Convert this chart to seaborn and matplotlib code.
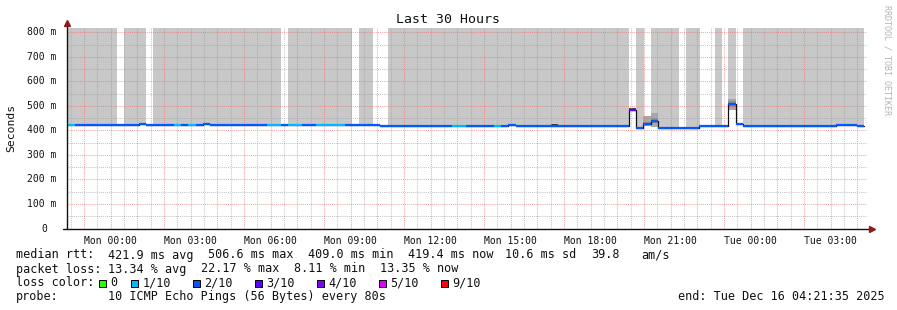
import numpy as np
import pandas as pd
import matplotlib
matplotlib.use("Agg")
import matplotlib.pyplot as plt
from matplotlib.patches import Rectangle
import seaborn as sns

# ---------------- data ----------------
window_start = pd.Timestamp("2025-12-14 22:21:35")
window_hours = 30
data_end = 29.89  # hours since window start where data stops

# median rtt, step segments (hours since window start), value in ms, loss-colour index
med_start = [0.00, 0.30, 2.69, 2.96, 4.01, 4.26, 4.54, 4.84, 5.11, 5.36, 7.50, 8.01,
             8.29, 8.80, 9.34, 10.43, 11.74, 14.43, 14.96, 16.01, 16.26, 16.54, 16.84,
             21.08, 21.34, 21.61, 21.89, 22.15, 23.71, 24.80, 25.09, 25.36, 28.84, 29.61]
med_value = [422.5, 422.5, 427.0, 422.5, 422.5, 422.5, 422.5, 422.5, 427.0, 422.5, 422.5, 422.5,
             422.5, 422.5, 422.5, 422.5, 418.5, 418.5, 418.5, 418.5, 418.5, 422.0, 418.5,
             483.0, 410.0, 428.0, 440.0, 409.0, 418.5, 506.6, 426.0, 418.5, 422.0, 419.4]
med_loss = [1, 2, 2, 2, 1, 2, 1, 2, 2, 2, 1, 2,
            1, 2, 1, 2, 2, 1, 2, 1, 2, 2, 2,
            3, 2, 2, 2, 2, 2, 2, 2, 2, 2, 2]

# light smoke reaching above the top of the graph
smoke_start = [0.00, 2.14, 3.22, 8.29, 10.95, 12.04, 21.34, 21.90, 23.21, 24.30, 24.80, 25.36]
smoke_end = [1.86, 2.95, 8.03, 10.68, 11.46, 21.08, 21.63, 22.94, 23.73, 24.55, 25.09, 29.89]
smoke_top = 830.0

# local smoke boxes (start, end, low, high, shade)
box_start = [18.15, 21.08, 21.61, 21.89, 21.61, 21.89, 24.80, 24.80]
box_end = [18.40, 21.34, 21.89, 22.15, 21.89, 22.15, 25.09, 25.09]
box_low = [419.0, 483.0, 418.0, 413.0, 423.0, 430.0, 483.0, 497.0]
box_high = [428.0, 492.0, 459.0, 472.0, 436.0, 452.0, 528.0, 518.0]
box_shade = ["#383838", "#4a4a4a", "#a8a8a8", "#a8a8a8", "#8c8c8c", "#8c8c8c", "#a8a8a8", "#8c8c8c"]

loss_labels = ["0", "1/10", "2/10", "3/10", "4/10", "5/10", "9/10"]
loss_colors = ["#26ff00", "#00b8ff", "#0059ff", "#5e00ff", "#7e00ff", "#dd00ff", "#ff0000"]

y_ticks = [0, 100, 200, 300, 400, 500, 600, 700, 800]
y_tick_labels = ["0", "100 m", "200 m", "300 m", "400 m", "500 m", "600 m", "700 m", "800 m"]

stats_rtt = ["421.9 ms avg", "506.6 ms max", "409.0 ms min", "419.4 ms now", "10.6 ms sd", "39.8", "am/s"]
stats_loss = ["13.34 % avg", "22.17 % max", "8.11 % min", "13.35 % now"]
probe_text = "10 ICMP Echo Pings (56 Bytes) every 80s"
end_text = "end: Tue Dec 16 04:21:35 2025"
title = "Last 30 Hours"

# ---------------- figure ----------------
W, H = 897, 310
sns.set_style("white")
mono = ["DejaVu Sans Mono", "Liberation Mono"]
plt.rcParams["font.family"] = mono

fig = plt.figure(figsize=(W / 100, H / 100), dpi=100, facecolor="white")
ax = fig.add_axes([67 / W, 1 - 228.5 / H, 800 / W, 200.5 / H])
ax.set_facecolor("white")
ax.set_xlim(0, window_hours)
ax.set_ylim(0, 817.5)

med_end = med_start[1:] + [data_end]

# smoke reaching the top
for s, e in zip(smoke_start, smoke_end):
    for ms, me, mv in zip(med_start, med_end, med_value):
        a, b = max(s, ms), min(e, me)
        if b > a:
            ax.fill_between([a, b], [mv, mv], [smoke_top, smoke_top],
                            color="#c8c8c8", lw=0, zorder=1)

# local smoke boxes
for s, e, lo, hi, c in zip(box_start, box_end, box_low, box_high, box_shade):
    ax.fill_between([s, e], [lo, lo], [hi, hi], color=c, lw=0, zorder=1.2)

# black step outline of the median
step_df = pd.DataFrame({"t": med_start + [data_end], "v": med_value + [med_value[-1]]})
sns.lineplot(data=step_df, x="t", y="v", ax=ax, color="#111111", lw=0.9,
             drawstyle="steps-post", estimator=None, sort=False, zorder=3)

# coloured median by loss
ax.hlines(med_value, med_start, med_end,
          colors=[loss_colors[i] for i in med_loss], lw=1.6, zorder=4)

# grid
hour_ticks = pd.date_range("2025-12-14 23:00", "2025-12-16 04:00", freq="1h")
half_ticks = pd.date_range("2025-12-14 22:30", "2025-12-16 04:00", freq="1h")
major_x = [(t - window_start) / pd.Timedelta(hours=1) for t in hour_ticks]
minor_x = [(t - window_start) / pd.Timedelta(hours=1) for t in half_ticks]
ax.set_xticks(major_x)
ax.set_xticks(minor_x, minor=True)
ax.set_xticklabels([t.strftime("%a %H:%M") if t.hour % 3 == 0 else "" for t in hour_ticks],
                   fontsize=7.0, color="#111111")
ax.set_yticks(y_ticks)
ax.set_yticks(np.arange(50, 817, 100), minor=True)
ax.set_yticklabels([])

major_kw = dict(color="#e87070", alpha=0.6, lw=0.75, ls=(0, (1, 1)))
minor_kw = dict(color="#a0a0a0", alpha=0.6, lw=0.75, ls=(0, (1, 1)))
ax.grid(which="major", **major_kw)
ax.grid(which="minor", **minor_kw)
ax.set_axisbelow(False)
for gl in ax.get_xgridlines() + ax.get_ygridlines():
    gl.set_zorder(2)

ax.tick_params(axis="both", which="both", direction="out", length=2.5, width=0.7,
               color="#444444")
ax.tick_params(axis="x", which="major", pad=2.8)
ax.tick_params(axis="x", which="minor", length=1.5)
ax.tick_params(axis="y", which="minor", length=2.5)
for sp in ax.spines.values():
    sp.set_visible(False)
ax.set_xlabel("")
ax.set_ylabel("")

# y tick labels
ytr = ax.get_yaxis_transform()
for v, lab in zip(y_ticks, y_tick_labels):
    xr = -10.3 / 800 if lab != "0" else -19.3 / 800
    ax.text(xr, v, lab, transform=ytr, ha="right", va="center", fontsize=7.0,
            color="#111111", clip_on=False)

# axis lines with arrows
ax.plot([0, 0], [0, 1.02], transform=ax.transAxes, color="#111111", lw=1.0,
        clip_on=False, zorder=5)
ax.plot([-0.005, 1.002], [0, 0], transform=ax.transAxes, color="#111111", lw=1.0,
        clip_on=False, zorder=5)
ax.plot([0], [1.025], marker="^", ms=4.2, color="#8b1a1a", transform=ax.transAxes,
        clip_on=False, zorder=6)
ax.plot([1.006], [0], marker=">", ms=4.2, color="#8b1a1a", transform=ax.transAxes,
        clip_on=False, zorder=6)

# texts
def ftext(x, y, s, **kw):
    kw.setdefault("fontsize", 8.43)
    kw.setdefault("color", "#111111")
    kw.setdefault("va", "center")
    fig.text(x / W, 1 - y / H, s, **kw)

ftext(448, 19.5, title, ha="center", fontsize=9.5)
ftext(11, 128, "Seconds", ha="center", rotation=90, fontsize=8.2)
ftext(887, 60, "RRDTOOL / TOBI OETIKER", ha="center", rotation=270, fontsize=6.0,
      color="#b4b4b4")

y1, y2, y3, y4 = 255, 269, 283, 296.5
ftext(16, y1, "median rtt:")
for x, s in zip([107.7, 207.7, 307.7, 407.7, 505, 591, 641], stats_rtt):
    ftext(x, y1, s)
ftext(16, y2, "packet loss:")
for x, s in zip([107.7, 200.7, 293.7, 379.6], stats_loss):
    ftext(x, y2, s)
ftext(16, y3, "loss color:")
box_x = [99, 130.5, 192.5, 254.5, 316.5, 378.5, 440.5]
for bx, lab, col in zip(box_x, loss_labels, loss_colors):
    fig.add_artist(Rectangle((bx / W, 1 - 287 / H), 7 / W, 7 / H, transform=fig.transFigure,
                             facecolor=col, edgecolor="black", lw=0.7))
    ftext(bx + 11.7, y3, lab)
ftext(16, y4, "probe:")
ftext(107.7, y4, probe_text)
ftext(678.3, y4, end_text)

fig.savefig("out.png", dpi=100, facecolor="white")
